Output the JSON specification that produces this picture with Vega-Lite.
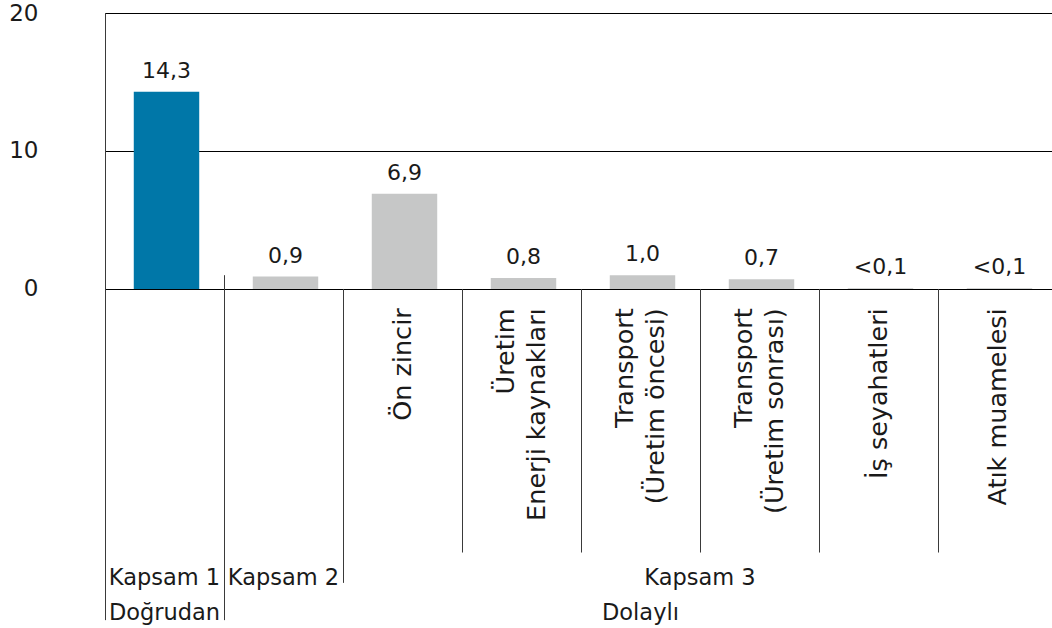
{
  "$schema": "https://vega.github.io/schema/vega-lite/v6.json",
  "width": 967,
  "height": 615,
  "autosize": "none",
  "padding": {"left": 85, "top": 13, "right": 0, "bottom": 0},
  "background": "white",
  "config": {
    "view": {"stroke": null},
    "font": "DejaVu Sans",
    "text": {"lineBreak": "\n", "color": "#1a1a1a"}
  },
  "datasets": {
    "bars": [
      {"cat": "Kapsam 1", "name": "", "value": 14.3, "label": "14,3", "scope": "Kapsam 1", "lines": 1},
      {"cat": "Kapsam 2", "name": "", "value": 0.9, "label": "0,9", "scope": "Kapsam 2", "lines": 1},
      {"cat": "Ön zincir", "name": "Ön zincir", "value": 6.9, "label": "6,9", "scope": "Kapsam 3", "lines": 1},
      {"cat": "Üretim Enerji kaynakları", "name": "Üretim\nEnerji kaynakları", "value": 0.8, "label": "0,8", "scope": "Kapsam 3", "lines": 2},
      {"cat": "Transport (Üretim öncesi)", "name": "Transport\n(Üretim öncesi)", "value": 1.0, "label": "1,0", "scope": "Kapsam 3", "lines": 2},
      {"cat": "Transport (Üretim sonrası)", "name": "Transport\n(Üretim sonrası)", "value": 0.7, "label": "0,7", "scope": "Kapsam 3", "lines": 2},
      {"cat": "İş seyahatleri", "name": "İş seyahatleri", "value": 0.05, "label": "<0,1", "scope": "Kapsam 3", "lines": 1},
      {"cat": "Atık muamelesi", "name": "Atık muamelesi", "value": 0.05, "label": "<0,1", "scope": "Kapsam 3", "lines": 1}
    ],
    "separators": [
      {"cat": "Kapsam 1", "top": 20, "bottom": -24},
      {"cat": "Kapsam 2", "top": 1.0, "bottom": -24},
      {"cat": "Ön zincir", "top": 0, "bottom": -21.3},
      {"cat": "Üretim Enerji kaynakları", "top": 0, "bottom": -19.1},
      {"cat": "Transport (Üretim öncesi)", "top": 0, "bottom": -19.1},
      {"cat": "Transport (Üretim sonrası)", "top": 0, "bottom": -19.1},
      {"cat": "İş seyahatleri", "top": 0, "bottom": -19.1},
      {"cat": "Atık muamelesi", "top": 0, "bottom": -19.1}
    ],
    "groupsCenter": [
      {"cat": "Kapsam 1", "text": "Kapsam 1", "level": -21.45},
      {"cat": "Kapsam 2", "text": "Kapsam 2", "level": -21.45},
      {"cat": "Kapsam 1", "text": "Doğrudan", "level": -24.0},
      {"cat": "Transport (Üretim öncesi)", "text": "Dolaylı", "level": -24.0}
    ],
    "groupsEdge": [
      {"cat": "Transport (Üretim sonrası)", "text": "Kapsam 3", "level": -21.45}
    ]
  },
  "encoding": {
    "x": {
      "field": "cat",
      "type": "nominal",
      "sort": null,
      "axis": null,
      "scale": {
        "domain": ["Kapsam 1", "Kapsam 2", "Ön zincir", "Üretim Enerji kaynakları", "Transport (Üretim öncesi)", "Transport (Üretim sonrası)", "İş seyahatleri", "Atık muamelesi"],
        "range": [20, 972],
        "paddingInner": 0,
        "paddingOuter": 0
      }
    }
  },
  "layer": [
    {
      "data": {"name": "bars"},
      "mark": {"type": "bar", "width": {"band": 0.55}, "xOffset": 2},
      "encoding": {
        "y": {
          "field": "value",
          "type": "quantitative",
          "scale": {"domain": [-24.57, 20], "nice": false, "zero": false},
          "axis": {
            "values": [0, 10, 20],
            "title": null,
            "domain": false,
            "ticks": false,
            "grid": true,
            "gridColor": "#000000",
            "gridWidth": 1,
            "gridOpacity": 1,
            "labelPadding": 47,
            "labelFontSize": 23,
            "labelColor": "#1a1a1a",
            "labelFont": "DejaVu Sans"
          }
        },
        "color": {
          "field": "scope",
          "type": "nominal",
          "scale": {"domain": ["Kapsam 1", "Kapsam 2", "Kapsam 3"], "range": ["#0077A8", "#C6C7C7", "#C6C7C7"]},
          "legend": null
        }
      }
    },
    {
      "data": {"name": "bars"},
      "mark": {"type": "text", "fontSize": 22, "baseline": "alphabetic", "dy": -14, "xOffset": 2},
      "encoding": {
        "y": {"field": "value", "type": "quantitative"},
        "text": {"field": "label"}
      }
    },
    {
      "data": {"name": "bars"},
      "transform": [{"filter": "datum.lines == 1"}],
      "mark": {"type": "text", "fontSize": 25.5, "angle": 270, "align": "right", "baseline": "middle", "lineHeight": 31},
      "encoding": {
        "y": {"datum": -1.4, "type": "quantitative"},
        "text": {"field": "name"}
      }
    },
    {
      "data": {"name": "bars"},
      "transform": [{"filter": "datum.lines == 2"}],
      "mark": {"type": "text", "fontSize": 25.5, "angle": 270, "align": "right", "baseline": "middle", "lineHeight": 31, "dy": -15.5},
      "encoding": {
        "y": {"datum": -1.4, "type": "quantitative"},
        "text": {"field": "name"}
      }
    },
    {
      "data": {"name": "separators"},
      "mark": {"type": "rule", "color": "#3a3a3a", "strokeWidth": 1, "xOffset": 0.5},
      "encoding": {
        "x": {"field": "cat", "type": "nominal", "bandPosition": 0},
        "y": {"field": "top", "type": "quantitative"},
        "y2": {"field": "bottom"}
      }
    },
    {
      "data": {"name": "groupsCenter"},
      "mark": {"type": "text", "fontSize": 22.5, "baseline": "alphabetic", "align": "center"},
      "encoding": {
        "y": {"field": "level", "type": "quantitative"},
        "text": {"field": "text"}
      }
    },
    {
      "data": {"name": "groupsEdge"},
      "mark": {"type": "text", "fontSize": 22.5, "baseline": "alphabetic", "align": "center"},
      "encoding": {
        "x": {"field": "cat", "type": "nominal", "bandPosition": 0},
        "y": {"field": "level", "type": "quantitative"},
        "text": {"field": "text"}
      }
    }
  ]
}
